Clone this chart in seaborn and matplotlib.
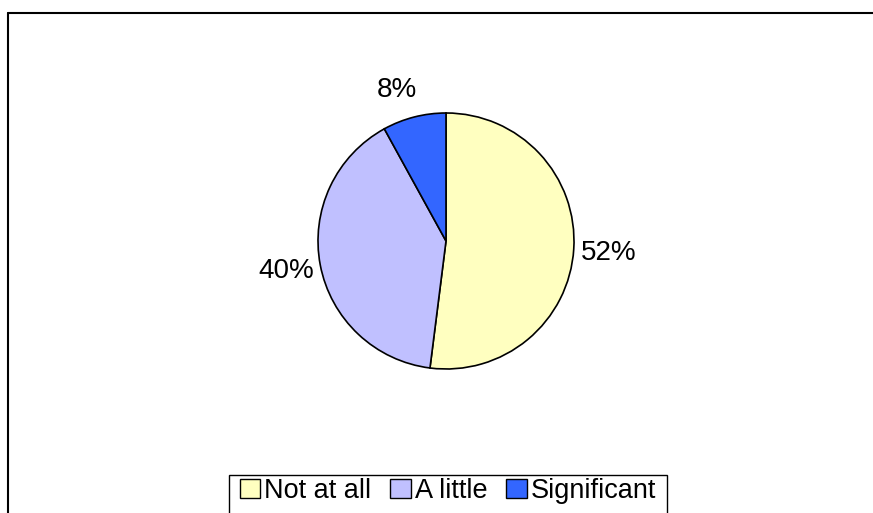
import matplotlib
matplotlib.use("Agg")
import matplotlib.pyplot as plt
import seaborn as sns
from matplotlib.lines import Line2D
from matplotlib.patches import Patch, Rectangle

categories = ["Not at all", "A little", "Significant"]
values = [52, 40, 8]
colors = ["#FFFFC0", "#C0C0FF", "#3366FF"]

sns.set_theme(style="white")
plt.rcParams['font.family'] = ['Liberation Sans', 'DejaVu Sans']
plt.rcParams['text.color'] = 'black'

W, H = 873, 513
fig = plt.figure(figsize=(W / 100, H / 100), dpi=100)
fig.patch.set_facecolor("white")

cx, cy, r = 446, 241, 128
ax = fig.add_axes([(cx - r) / W, (H - cy - r) / H, 2 * r / W, 2 * r / H])
wedges, texts, autotexts = ax.pie(
    values, colors=colors, startangle=90, counterclock=False,
    autopct=lambda p: f"{p:.0f}%", pctdistance=1.27,
    wedgeprops=dict(edgecolor="black", linewidth=1.2),
    textprops=dict(fontsize=20, color="black"),
)
for t in autotexts:
    t.set_clip_on(False)
# fine-tune label positions (Excel-style placement)
autotexts[0].set_position((1.27, -0.09))
autotexts[2].set_position((-0.38, 1.18))
ax.set_xlim(-1, 1)
ax.set_ylim(-1, 1)
ax.set_aspect("auto")
ax.axis("off")

# outer chart border (top & left visible)
fig.add_artist(Line2D([8 / W, 1.0], [1 - 13 / H, 1 - 13 / H], color="black", lw=1.5, transform=fig.transFigure))
fig.add_artist(Line2D([8 / W, 8 / W], [0.0, 1 - 13 / H], color="black", lw=1.5, transform=fig.transFigure))

# legend box (extends past the bottom edge, as in the reference)
fig.add_artist(Rectangle((229 / W, -0.05), (667 - 229) / W, (513 - 475) / H + 0.05,
                         facecolor="white", edgecolor="black", linewidth=1.0,
                         transform=fig.transFigure, zorder=1))

handles = [Patch(facecolor=c, edgecolor="black", linewidth=1.0) for c in colors]
leg = fig.legend(handles, categories, loc="center",
                 bbox_to_anchor=(448 / W, 1 - 491 / H), ncol=3,
                 fontsize=19.5, frameon=False,
                 handlelength=0.75, handleheight=0.75, handletextpad=0.15,
                 columnspacing=0.7, borderpad=0.0, borderaxespad=0)
leg.set_zorder(2)
for t in leg.get_texts():
    t.set_color("black")

fig.savefig("out.png", dpi=100)
